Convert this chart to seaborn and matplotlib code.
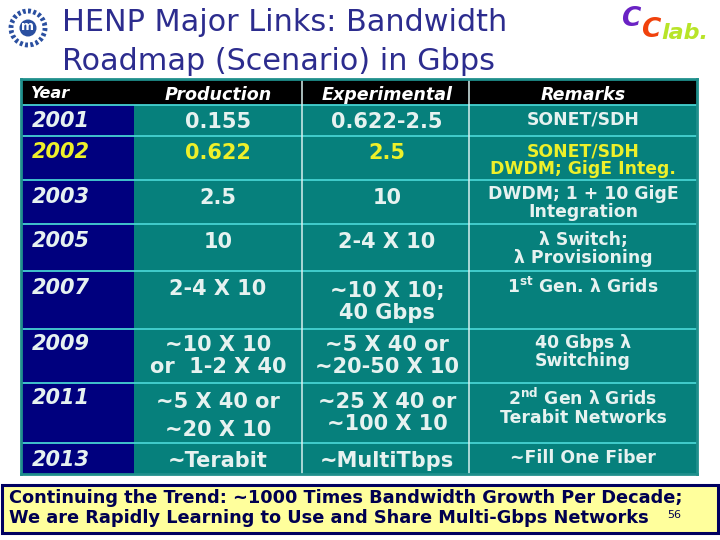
import numpy as np
import matplotlib
matplotlib.use("Agg")
import matplotlib.pyplot as plt
from matplotlib.colors import ListedColormap
from matplotlib.patches import Circle, Rectangle
import seaborn as sns

# table contents
years = ["2001", "2002", "2003", "2005", "2007", "2009", "2011", "2013"]
production = ["0.155", "0.622", "2.5", "10", "2-4 X 10",
              "~10 X 10\nor  1-2 X 40", "~5 X 40 or\n~20 X 10", "~Terabit"]
experimental = ["0.622-2.5", "2.5", "10", "2-4 X 10", "~10 X 10;\n40 Gbps",
                "~5 X 40 or\n~20-50 X 10", "~25 X 40 or\n~100 X 10", "~MultiTbps"]
remarks = ["SONET/SDH", "SONET/SDH\nDWDM; GigE Integ.",
           "DWDM; 1 + 10 GigE\nIntegration",
           "\u03bb Switch;\n\u03bb Provisioning",
           "1$^{\\mathrm{st}}$ Gen. \u03bb Grids",
           "40 Gbps \u03bb\nSwitching",
           "2$^{\\mathrm{nd}}$ Gen \u03bb Grids\nTerabit Networks",
           "~Fill One Fiber"]
headers = ["Year", "Production", "Experimental", "Remarks"]
title = "HENP Major Links: Bandwidth\nRoadmap (Scenario) in Gbps"
footer = ["Continuing the Trend: ~1000 Times Bandwidth Growth Per Decade;",
          "We are Rapidly Learning to Use and Share Multi-Gbps Networks"]
page = "56"

# layout, in reference pixels
col_edges = [21, 134, 302, 469, 697]
row_edges = [79, 105, 136, 180, 224, 271, 329, 383, 443, 474]
year_y = [121, 152, 197, 241, 288, 344, 398, 460]
prod_y = [122, 153, 198, 242, 289, 356, 416, 461]
exp_y = [122, 153, 198, 242, 302, 356, 413, 461]
rem_y = [119, 160, 203, 249, 287, 352, 407, 458]
prod_spacing = [1.1, 1.1, 1.1, 1.1, 1.1, 1.1, 1.45, 1.1]
col_centres = [218, 387, 583]
footer_y = [498, 518]

TEAL = "#06807c"
NAVY = "#00007e"
LINE = "#46d2d2"
WHITE = "#e6f2f0"
YELLOW = "#eef02a"
INK = "#2c2c8e"

sns.set_theme(style="white")
plt.rcParams["font.family"] = ["DejaVu Sans"]
plt.rcParams["mathtext.fontset"] = "custom"
plt.rcParams["mathtext.rm"] = "DejaVu Sans:bold"

W, H = 720, 540
fig = plt.figure(figsize=(W / 100, H / 100), dpi=100, facecolor="white")

# page axes in pixel coordinates
page_ax = fig.add_axes([0, 0, 1, 1])
page_ax.set_xlim(0, W)
page_ax.set_ylim(H, 0)
page_ax.axis("off")

# title goes under the table, the descenders get cut by it
page_ax.text(62, 42, title, color=INK, fontsize=21.8, va="center", ha="left", linespacing=1.4)

# the table body: one heatmap cell per pixel so rows can differ in height
col_w = np.diff(col_edges)
row_h = np.diff(row_edges)
codes = np.full((len(row_h), len(col_w)), 2)
codes[0, :] = 0
codes[1:, 0] = 1
grid = np.repeat(np.repeat(codes, row_h, axis=0), col_w, axis=1)

x0, x1, y0, y1 = col_edges[0], col_edges[-1], row_edges[0], row_edges[-1]
ax = fig.add_axes([x0 / W, 1 - y1 / H, (x1 - x0) / W, (y1 - y0) / H])
sns.heatmap(grid, ax=ax, cmap=ListedColormap(["black", NAVY, TEAL]), vmin=0, vmax=2,
            cbar=False, xticklabels=False, yticklabels=False, rasterized=True)
ax.set_xlim(0, x1 - x0)
ax.set_ylim(y1 - y0, 0)
for s in ax.spines.values():
    s.set_visible(True)
    s.set_color("#1f8f8c")
    s.set_linewidth(2)

# grid lines
for y in row_edges[1:-1]:
    ax.hlines(y - y0, 0, x1 - x0, color=LINE, lw=1.3)
for x in col_edges[2:-1]:
    ax.vlines(x - x0, 0, y1 - y0, color="#d8f0ee", lw=1.1)

# everything else sits on a second transparent layer above the table
top = fig.add_axes([0, 0, 1, 1])
top.set_xlim(0, W)
top.set_ylim(H, 0)
top.axis("off")

# header row
bold = dict(family="DejaVu Sans", weight="bold")
top.text(31, 94, headers[0], color="white", fontsize=11.6, style="italic",
         va="center", ha="left", **bold)
for cx, label in zip(col_centres, headers[1:]):
    top.text(cx, 95, label, color="white", fontsize=12.6, style="italic",
             va="center", ha="center", **bold)

# body cells; the 2002 row is highlighted
for i in range(len(years)):
    c = YELLOW if years[i] == "2002" else WHITE
    top.text(32, year_y[i], years[i], color=c, fontsize=15, style="italic",
             va="center", ha="left", **bold)
    top.text(col_centres[0], prod_y[i], production[i], color=c, fontsize=15,
             va="center", ha="center", linespacing=prod_spacing[i], **bold)
    top.text(col_centres[1], exp_y[i], experimental[i], color=c, fontsize=15,
             va="center", ha="center", linespacing=1.1, **bold)
    top.text(col_centres[2], rem_y[i], remarks[i], color=c, fontsize=12.4,
             va="center", ha="center", linespacing=1.0, **bold)

# left emblem
top.add_patch(Circle((28, 28), 17, fill=False, ec="#2a4fa0", lw=3.5, ls=(0, (0.6, 0.5))))
top.add_patch(Circle((28, 28), 8.5, fc="#2a4fa0", ec="none"))
top.text(28, 27, "m", color="white", fontsize=9, weight="bold", va="center", ha="center")

# right logo
top.text(621, 19, "C", color="#6a22c4", fontsize=19, weight="bold", style="italic",
         va="center", ha="left")
top.text(641, 30, "C", color="#f0420c", fontsize=19, weight="bold", style="italic",
         va="center", ha="left")
top.text(661, 33, "lab.", color="#b8e428", fontsize=16, weight="bold", style="italic",
         va="center", ha="left")

# footer box
top.add_patch(Rectangle((2, 485), 716, 48, fc="#ffff9c", ec="#000060", lw=2.2))
for line, y in zip(footer, footer_y):
    top.text(9, y, line, color="#000050", fontsize=12.8, va="center", ha="left", **bold)
top.text(667, 515, page, color="#000050", fontsize=8, va="center", ha="left")

fig.savefig("out.png", dpi=100, facecolor="white")
